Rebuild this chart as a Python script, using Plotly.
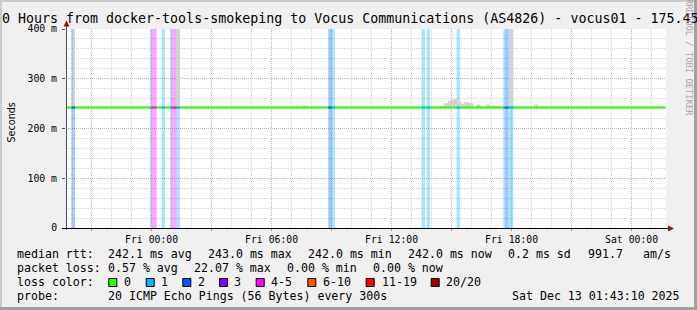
import plotly.graph_objects as go
from datetime import datetime, timedelta

# ------------------------------------------------------------------ data
x_start = "2025-12-11 19:43:10"
x_end = "2025-12-13 01:43:10"
y_max = 400

median_rtt = 242.0
median_times = ["2025-12-11 19:43:10", "2025-12-13 01:42:00"]
median_values = [242.0, 242.0]

# 5-minute steps with packet loss (pings lost out of 20)
loss_times = [
    "2025-12-11 20:00", "2025-12-11 20:05", "2025-12-11 23:55",
    "2025-12-12 00:00", "2025-12-12 00:05", "2025-12-12 00:10",
    "2025-12-12 00:30", "2025-12-12 00:35", "2025-12-12 00:55",
    "2025-12-12 01:00", "2025-12-12 01:05", "2025-12-12 01:10",
    "2025-12-12 01:15", "2025-12-12 01:20",
    "2025-12-12 08:50", "2025-12-12 08:55", "2025-12-12 09:00", "2025-12-12 09:05",
    "2025-12-12 13:30", "2025-12-12 13:35", "2025-12-12 13:45", "2025-12-12 13:50",
    "2025-12-12 15:15", "2025-12-12 15:20",
    "2025-12-12 17:35", "2025-12-12 17:40", "2025-12-12 17:45", "2025-12-12 17:50",
    "2025-12-12 17:55", "2025-12-12 18:00",
]
loss_counts = [
    2, 2, 1,
    4, 4, 5,
    1, 1, 1,
    4, 5, 4,
    1, 1,
    2, 2, 1, 1,
    1, 1, 1, 1,
    1, 1,
    1, 2, 2, 1,
    1, 1,
]

# smoke (upper spread of the 20 pings), ms
smoke_times = [
    "2025-12-11 20:05", "2025-12-12 01:15", "2025-12-12 01:20",
    "2025-12-12 07:35", "2025-12-12 07:40",
    "2025-12-12 14:30", "2025-12-12 14:35", "2025-12-12 14:40", "2025-12-12 14:45",
    "2025-12-12 14:50", "2025-12-12 14:55", "2025-12-12 15:00", "2025-12-12 15:05",
    "2025-12-12 15:10", "2025-12-12 15:15", "2025-12-12 15:20", "2025-12-12 15:25",
    "2025-12-12 15:30", "2025-12-12 15:35", "2025-12-12 15:40", "2025-12-12 15:45",
    "2025-12-12 15:50", "2025-12-12 15:55", "2025-12-12 16:00",
    "2025-12-12 16:15", "2025-12-12 16:20",
    "2025-12-12 16:45", "2025-12-12 16:50", "2025-12-12 16:55", "2025-12-12 17:00",
    "2025-12-12 17:05", "2025-12-12 17:10", "2025-12-12 17:15", "2025-12-12 17:20",
    "2025-12-12 17:55", "2025-12-12 18:00",
    "2025-12-12 19:10", "2025-12-12 19:15",
]
smoke_tops = [
    400, 400, 400,
    247, 247,
    246, 246, 251, 251,
    256, 256, 257, 259,
    259, 258, 254, 254,
    249, 249, 253, 253,
    252, 252, 251,
    248, 248,
    248, 248, 246, 247,
    246, 245, 245, 245,
    400, 400,
    248, 248,
]

loss_classes = ["0", "1", "2", "3", "4-5", "6-10", "11-19", "20/20"]
loss_class_colors = ["#26ff00", "#00b8ff", "#0059ff", "#7e00ff", "#ff00ff",
                     "#ff5500", "#ff0000", "#a10000"]
loss_class_upper = [0, 1, 2, 3, 5, 10, 19, 20]

y_tick_vals = [0, 100, 200, 300, 400]
y_tick_text = ["0", "100 m", "200 m", "300 m", "400 m"]
x_tick_vals = ["2025-12-11 21:00", "2025-12-12 00:00", "2025-12-12 03:00",
               "2025-12-12 06:00", "2025-12-12 09:00", "2025-12-12 12:00",
               "2025-12-12 15:00", "2025-12-12 18:00", "2025-12-12 21:00",
               "2025-12-13 00:00"]
x_tick_text = ["", "Fri 00:00", "", "Fri 06:00", "", "Fri 12:00", "",
               "Fri 18:00", "", "Sat 00:00"]

title_text = "0 Hours from docker-tools-smokeping to Vocus Communications (AS4826) - vocus01 - 175.45"
legend_row1 = [("median rtt:", 16), ("242.1 ms avg", 107.3), ("243.0 ms max", 207.3),
               ("242.0 ms min", 306.7), ("242.0 ms now", 407.3), ("0.2 ms sd", 506.7),
               ("991.7", 586.7), ("am/s", 641.7)]
legend_row2 = [("packet loss:", 16), ("0.57 % avg", 107.3), ("22.07 % max", 193),
               ("0.00 % min", 286), ("0.00 % now", 372.3)]
legend_row3_label = "loss color:"
legend_square_x = [108.3, 145.7, 182.3, 219, 255.7, 307.3, 365.7, 430.7]
legend_label_x = [123.3, 160, 196.7, 233.3, 270, 322.3, 380.7, 445]
probe_text = "20 ICMP Echo Pings (56 Bytes) every 300s"
stamp_text = "Sat Dec 13 01:43:10 2025"
watermark = "RRDTOOL / TOBI OETIKER"

# ------------------------------------------------------------------ layout geometry
W_IMG, H_IMG = 697, 310
L, R, T, B = 66, 31, 29, 82
PW, PH = W_IMG - L - R, H_IMG - T - B
MONO = "DejaVu Sans Mono"


def fx(px):
    return (px - L) / PW


def fy(py):
    return (T + PH - py) / PH


def nb(s):
    return s.replace(" ", "\u00a0")


def class_of(count):
    for i, up in enumerate(loss_class_upper):
        if count <= up:
            return i
    return len(loss_class_upper) - 1


def rgba(hexc, a):
    h = hexc.lstrip("#")
    return "rgba(%d,%d,%d,%.2f)" % (int(h[0:2], 16), int(h[2:4], 16), int(h[4:6], 16), a)


STEP_MS = 300000
fig = go.Figure()

# loss bars (pale, full height)
for ci in range(len(loss_classes)):
    xs = [t for t, c in zip(loss_times, loss_counts) if class_of(c) == ci and c > 0]
    if not xs:
        continue
    fig.add_trace(go.Bar(x=xs, y=[y_max] * len(xs), base=0, width=STEP_MS, offset=0,
                         marker=dict(color=rgba(loss_class_colors[ci], 0.36), line=dict(width=0)),
                         hoverinfo="skip", showlegend=False))

# smoke
fig.add_trace(go.Bar(x=smoke_times, y=[v - median_rtt for v in smoke_tops], base=median_rtt,
                     width=STEP_MS, offset=0,
                     marker=dict(color="#d2d2d2", line=dict(width=0)),
                     hoverinfo="skip", showlegend=False))

# median line (green = no loss)
fig.add_trace(go.Scatter(x=median_times, y=median_values, mode="lines",
                         line=dict(color=loss_class_colors[0], width=2),
                         hoverinfo="skip", showlegend=False))

# median line coloured by loss
for ci in range(1, len(loss_classes)):
    xs, ys = [], []
    for t, c in zip(loss_times, loss_counts):
        if c > 0 and class_of(c) == ci:
            t0 = datetime.strptime(t, "%Y-%m-%d %H:%M")
            xs += [t0, t0 + timedelta(milliseconds=STEP_MS), None]
            ys += [median_rtt, median_rtt, None]
    if xs:
        fig.add_trace(go.Scatter(x=xs, y=ys, mode="lines",
                                 line=dict(color=loss_class_colors[ci], width=2),
                                 hoverinfo="skip", showlegend=False))

# ------------------------------------------------------------------ annotations
ann = []
ann.append(dict(text=nb(title_text), x=fx(1), y=fy(18.5), xanchor="left", yanchor="middle",
                font=dict(family=MONO, size=13.3, color="#000")))
ann.append(dict(text="Seconds", x=fx(11), y=fy(122.5), textangle=-90, xanchor="center",
                yanchor="middle", font=dict(family="DejaVu Sans", size=9.6, color="#000")))
ann.append(dict(text=nb(watermark), x=fx(689), y=fy(57), textangle=90, xanchor="center",
                yanchor="middle", font=dict(family=MONO, size=8.8, color="#a8a8a8")))
leg_font = dict(family=MONO, size=11.6, color="#000")
row_y = [254.3, 268.3, 282.3, 296.3]
for txt, x in legend_row1:
    ann.append(dict(text=nb(txt), x=fx(x), y=fy(row_y[0]), xanchor="left", yanchor="middle", font=leg_font))
for txt, x in legend_row2:
    ann.append(dict(text=nb(txt), x=fx(x), y=fy(row_y[1]), xanchor="left", yanchor="middle", font=leg_font))
ann.append(dict(text=nb(legend_row3_label), x=fx(16), y=fy(row_y[2]), xanchor="left", yanchor="middle", font=leg_font))
for txt, x in zip(loss_classes, legend_label_x):
    ann.append(dict(text=nb(txt), x=fx(x), y=fy(row_y[2]), xanchor="left", yanchor="middle", font=leg_font))
ann.append(dict(text="probe:", x=fx(16), y=fy(row_y[3]), xanchor="left", yanchor="middle", font=leg_font))
ann.append(dict(text=nb(probe_text), x=fx(107.3), y=fy(row_y[3]), xanchor="left", yanchor="middle", font=leg_font))
ann.append(dict(text=nb(stamp_text), x=fx(681), y=fy(row_y[3]), xanchor="right", yanchor="middle", font=leg_font))
for a in ann:
    a.update(xref="paper", yref="paper", showarrow=False, borderpad=0)

# ------------------------------------------------------------------ shapes
shp = []


def rect(x0, y0, x1, y1, fill, line=None, layer="above"):
    d = dict(type="rect", xref="paper", yref="paper", x0=fx(x0), x1=fx(x1), y0=fy(y1), y1=fy(y0),
             fillcolor=fill, layer=layer)
    d["line"] = dict(width=1, color=line) if line else dict(width=0)
    return d


# frame shading
shp.append(rect(0, 0, 697, 2, "#cbcbcb"))
shp.append(rect(0, 0, 2, 310, "#cbcbcb"))
shp.append(rect(694, 0, 697, 310, "#a0a0a0"))
shp.append(rect(0, 307, 697, 310, "#a0a0a0"))
# axes
shp.append(dict(type="line", xref="paper", yref="paper", x0=fx(66.5), x1=fx(66.5), y0=fy(230), y1=fy(25),
                line=dict(color="#505050", width=1)))
shp.append(dict(type="line", xref="paper", yref="paper", x0=fx(62), x1=fx(669), y0=fy(228.5), y1=fy(228.5),
                line=dict(color="#000000", width=1)))
# arrows
shp.append(dict(type="path", xref="paper", yref="paper",
                path="M %f %f L %f %f L %f %f Z" % (fx(63.5), fy(26.5), fx(69.5), fy(26.5), fx(66.5), fy(20.5)),
                fillcolor="#9a1010", line=dict(width=0)))
shp.append(dict(type="path", xref="paper", yref="paper",
                path="M %f %f L %f %f L %f %f Z" % (fx(668), fy(225.5), fx(668), fy(231.5), fx(674), fy(228.5)),
                fillcolor="#9a1010", line=dict(width=0)))
# legend squares
for x, col in zip(legend_square_x, loss_class_colors):
    shp.append(rect(x + 0.5, 278.5, x + 8.5, 286.5, col, line="#000000"))

fig.update_layout(
    width=W_IMG, height=H_IMG, autosize=False,
    margin=dict(l=L, r=R, t=T, b=B, pad=0),
    paper_bgcolor="#f0f0f0", plot_bgcolor="#ffffff",
    barmode="overlay", showlegend=False,
    annotations=ann, shapes=shp,
    xaxis=dict(type="date", range=[x_start, x_end], tickmode="array",
               tickvals=x_tick_vals, ticktext=x_tick_text,
               ticks="outside", ticklen=2, tickcolor="#c08080",
               tickfont=dict(family=MONO, size=9.8, color="#000"),
               showgrid=True, gridcolor="#dba8a8", griddash="1px,1px", gridwidth=1,
               minor=dict(dtick=3600000, showgrid=True, gridcolor="#d4d4d4",
                          griddash="1px,1px", gridwidth=1),
               zeroline=False, showline=False, fixedrange=True),
    yaxis=dict(range=[0, y_max], tickmode="array", tickvals=y_tick_vals, ticktext=y_tick_text,
               ticks="outside", ticklen=3, tickcolor="#505050", ticklabelstandoff=3,
               tickfont=dict(family=MONO, size=9.8, color="#000"),
               showgrid=True, gridcolor="#dba8a8", griddash="1px,1px", gridwidth=1,
               minor=dict(dtick=20, showgrid=True, gridcolor="#d4d4d4",
                          griddash="1px,1px", gridwidth=1),
               zeroline=False, showline=False, fixedrange=True),
)

fig.write_html("out.html", config={"displayModeBar": False})
